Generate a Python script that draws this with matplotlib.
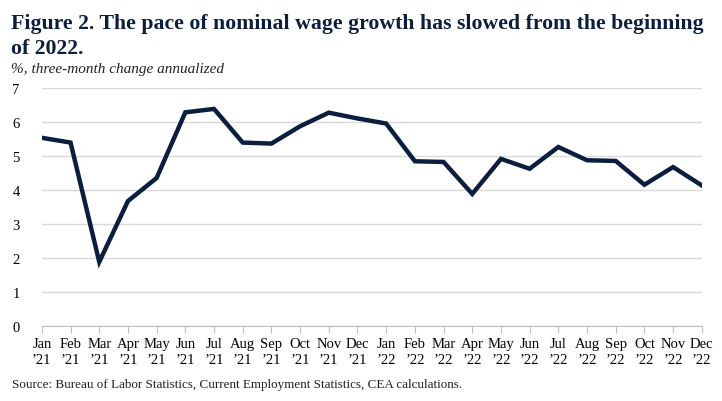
import matplotlib
matplotlib.use('Agg')
import matplotlib.pyplot as plt
import numpy as np

months = ['Jan', 'Feb', 'Mar', 'Apr', 'May', 'Jun', 'Jul', 'Aug', 'Sep', 'Oct', 'Nov', 'Dec']
years = ['21', '22']
labels = [m + '\n\u2019' + y for y in years for m in months]
wage_growth = [5.53, 5.39, 1.88, 3.67, 4.35, 6.28, 6.38, 5.39, 5.36, 5.87, 6.27, 6.10,
               5.95, 4.84, 4.82, 3.88, 4.91, 4.62, 5.26, 4.87, 4.85, 4.15, 4.67, 4.13]

navy = '#0c1e3e'
plt.rcParams['font.family'] = ['Liberation Serif', 'DejaVu Serif']

fig = plt.figure(figsize=(7.22, 4.02), dpi=100)
ax = fig.add_axes([0.058, 0.187, 0.914, 0.592])

x = np.arange(len(wage_growth))
ax.plot(x, wage_growth, color=navy, linewidth=3.2, solid_joinstyle='miter', zorder=3)

ax.set_xlim(0, len(wage_growth) - 1)
ax.set_ylim(0, 7)
ax.set_yticks(range(0, 8))
ax.set_xticks(x)
ax.set_xticklabels(labels, fontsize=10.5, linespacing=1.35)
ax.tick_params(axis='y', length=0, labelsize=10.5, pad=16)
ax.tick_params(axis='x', length=5, color='#bfbfbf', width=0.8, pad=3)
ax.grid(axis='y', color='#d9d9d9', linewidth=1.0)
ax.set_axisbelow(True)
for s in ['top', 'right', 'left']:
    ax.spines[s].set_visible(False)
ax.spines['bottom'].set_color('#bfbfbf')
ax.spines['bottom'].set_linewidth(0.8)

fig.text(0.015, 0.965, 'Figure 2. The pace of nominal wage growth has slowed from the beginning\nof 2022.',
         fontsize=15.7, fontweight='bold', color=navy, va='top', ha='left', linespacing=1.3)
fig.text(0.015, 0.843, '%, three-month change annualized', fontsize=11, style='italic',
         color='#222222', va='top', ha='left')
fig.text(0.016, 0.028, 'Source: Bureau of Labor Statistics, Current Employment Statistics, CEA calculations.',
         fontsize=9.45, color='#222222', va='bottom', ha='left')

fig.savefig('out.png', dpi=100)
